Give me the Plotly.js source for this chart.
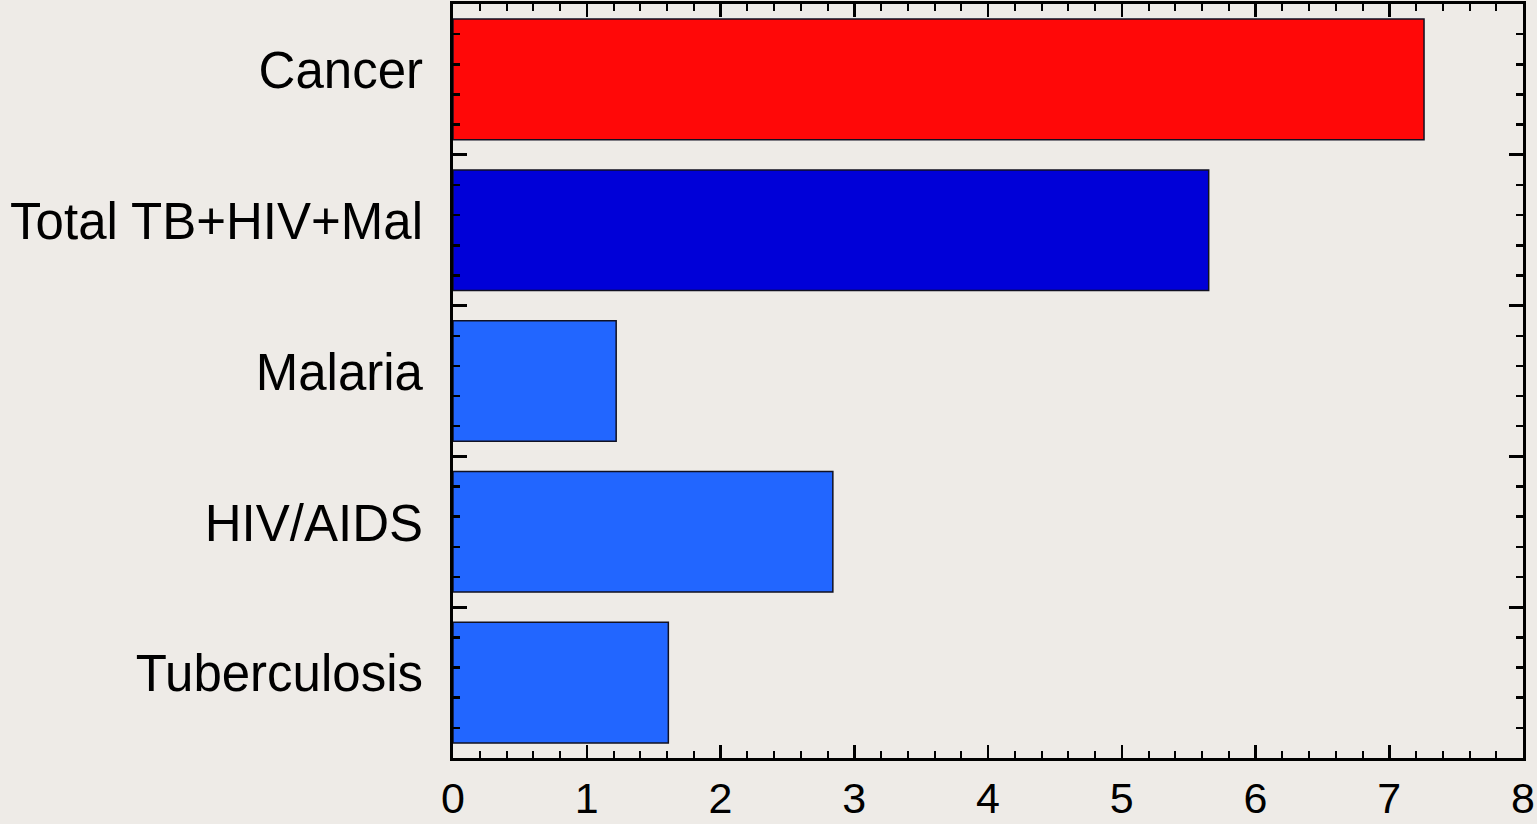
<!DOCTYPE html>
<html>
<head>
<meta charset="utf-8">
<script src="https://cdn.plot.ly/plotly-3.0.1.min.js"></script>
<style>
html,body{margin:0;padding:0;background:#eeebe7;}
#chart{width:1537px;height:824px;}
</style>
</head>
<body>
<div id="chart"></div>
<script>
// Data (bottom to top)
var categories = ["Tuberculosis", "HIV/AIDS", "Malaria", "Total TB+HIV+Mal", "Cancer"];
var values = [1.61, 2.84, 1.22, 5.65, 7.26];
var barColors = ["#2266ff", "#2266ff", "#2266ff", "#0000d8", "#ff0808"];
var xTickVals = [0, 1, 2, 3, 4, 5, 6, 7, 8];
var xTickText = ["0", "1", "2", "3", "4", "5", "6", "7", "8"];

var bars = {
  type: "bar",
  orientation: "h",
  x: values,
  y: categories,
  marker: {color: barColors, line: {color: "#111122", width: 1.5}},
  hoverinfo: "x+y"
};
var dummy = {
  type: "scatter", mode: "markers",
  x: [0], y: [0], yaxis: "y2",
  marker: {opacity: 0}, hoverinfo: "skip", showlegend: false
};

var layout = {
  width: 1537, height: 824,
  paper_bgcolor: "#eeebe7",
  plot_bgcolor: "#eeebe7",
  margin: {l: 453, r: 14, t: 4, b: 66, pad: 0},
  showlegend: false,
  bargap: 0.2,
  font: {family: "Liberation Sans, Arial, sans-serif", color: "#000"},
  xaxis: {
    range: [0, 8],
    tickmode: "array", tickvals: xTickVals, ticktext: xTickText,
    ticks: "inside", ticklen: 13, tickwidth: 2.5, tickcolor: "#000",
    minor: {dtick: 0.2, tick0: 0, ticks: "inside", ticklen: 7, tickwidth: 2, tickcolor: "#000"},
    showline: true, linewidth: 3, linecolor: "#000", mirror: "ticks",
    showgrid: false, zeroline: false,
    tickfont: {size: 43, color: "#000"},
    ticklabelstandoff: 0,
    fixedrange: true
  },
  yaxis: {
    type: "category",
    categoryorder: "array", categoryarray: categories,
    range: [-0.5, 4.5],
    ticks: "", showgrid: false, zeroline: false,
    showline: false,
    tickfont: {size: 51, color: "#000"},
    ticklabelstandoff: 29,
    ticklabelshift: -9,
    fixedrange: true
  },
  yaxis2: {
    overlaying: "y", side: "left",
    range: [-0.5, 4.5],
    tickmode: "linear", tick0: 0.5, dtick: 1,
    ticks: "inside", ticklen: 14, tickwidth: 3, tickcolor: "#000",
    minor: {dtick: 0.2, tick0: 0.5, ticks: "inside", ticklen: 7, tickwidth: 2.5, tickcolor: "#000"},
    showticklabels: false,
    showline: true, linewidth: 3, linecolor: "#000", mirror: "ticks",
    showgrid: false, zeroline: false,
    fixedrange: true
  }
};

Plotly.newPlot("chart", [bars, dummy], layout, {displayModeBar: false, staticPlot: true});
</script>
</body>
</html>
